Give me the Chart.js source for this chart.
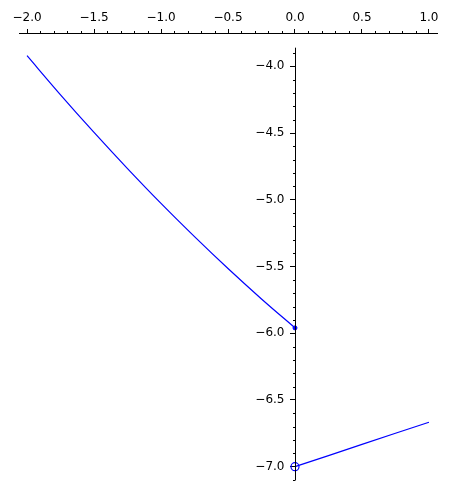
<!DOCTYPE html>
<html>
<head>
<meta charset="utf-8">
<script src="https://cdn.jsdelivr.net/npm/chart.js@4/dist/chart.umd.min.js"></script>
<style>
  html, body { margin: 0; padding: 0; background: #fff; }
  canvas { display: block; }
</style>
</head>
<body>
<canvas id="c" width="450" height="490"></canvas>
<script>
// ---- data ----
const leftX  = [-2.0, -1.75, -1.5, -1.25, -1.0, -0.75, -0.5, -0.25, 0.0];
const leftY  = [-3.92, -4.213, -4.495, -4.766, -5.027, -5.276, -5.515, -5.743, -5.96];
const rightX = [0.0, 0.25, 0.5, 0.75, 1.0];
const rightY = [-7.0, -6.917, -6.833, -6.75, -6.667];
const closedPointX = [0.0];
const closedPointY = [-5.96];
const openPointX = [0.0];
const openPointY = [-7.0];
const xTickValues = [-2.0, -1.5, -1.0, -0.5, 0.0, 0.5, 1.0];
const yTickValues = [-7.0, -6.5, -6.0, -5.5, -5.0, -4.5, -4.0];
const xMinorStep = 0.1;
const yMinorStep = 0.1;

const toPts = (xs, ys) => xs.map((x, i) => ({ x: x, y: ys[i] }));
const fmt = v => { const s = Number(v).toFixed(1); return s.replace('-', '\u2212'); };
const BLUE = '#0000ff';
const FONT = { family: 'DejaVu Sans', size: 12 };

const axisDecor = {
  id: 'axisDecor',
  afterDraw(chart) {
    const ctx = chart.ctx, xs = chart.scales.x, ys = chart.scales.y;
    const area = chart.chartArea;
    const x0 = Math.round(xs.getPixelForValue(0)) + 0.5;
    ctx.save();
    ctx.strokeStyle = '#000';
    ctx.lineWidth = 1;
    // y spine
    ctx.beginPath();
    ctx.moveTo(x0, ys.getPixelForValue(-3.86));
    ctx.lineTo(x0, area.bottom);
    ctx.stroke();
    // x minor ticks
    const xa = xTickValues[0], xb = xTickValues[xTickValues.length - 1];
    const nX = Math.round((xb - xa) / xMinorStep);
    ctx.beginPath();
    for (let i = 0; i <= nX; i++) {
      if (i % 5 === 0) continue;
      const px = Math.round(xs.getPixelForValue(xa + i * xMinorStep)) + 0.5;
      ctx.moveTo(px, area.top);
      ctx.lineTo(px, area.top - 2);
    }
    // y minor ticks
    const ya = yTickValues[0], yb = -3.9;
    const nY = Math.round((yb - ya) / yMinorStep);
    for (let i = -1; i <= nY; i++) {
      if (((i % 5) + 5) % 5 === 0) continue;
      const py = Math.round(ys.getPixelForValue(ya + i * yMinorStep)) + 0.5;
      ctx.moveTo(x0, py);
      ctx.lineTo(x0 - 2.5, py);
    }
    ctx.stroke();
    // y tick labels, placed through the y scale
    ctx.fillStyle = '#000';
    ctx.font = FONT.size + 'px "' + FONT.family + '"';
    ctx.textAlign = 'right';
    ctx.textBaseline = 'middle';
    yTickValues.forEach(v => {
      ctx.fillText(fmt(v), x0 - 11, ys.getPixelForValue(v));
    });
    ctx.restore();
  }
};

new Chart(document.getElementById('c'), {
  type: 'scatter',
  data: {
    datasets: [
      { data: toPts(leftX, leftY), showLine: true, borderColor: BLUE, borderWidth: 1.2,
        pointRadius: 0, cubicInterpolationMode: 'monotone', fill: false },
      { data: toPts(rightX, rightY), showLine: true, borderColor: BLUE, borderWidth: 1.2,
        pointRadius: 0, fill: false },
      { data: toPts(closedPointX, closedPointY), showLine: false, pointRadius: 2,
        pointBackgroundColor: BLUE, pointBorderColor: BLUE, pointBorderWidth: 1 },
      { data: toPts(openPointX, openPointY), showLine: false, pointRadius: 4,
        pointBackgroundColor: 'rgba(0,0,0,0)', pointBorderColor: BLUE, pointBorderWidth: 1.2 }
    ]
  },
  options: {
    responsive: false,
    devicePixelRatio: 1,
    animation: false,
    events: [],
    layout: { padding: { left: 19, right: 13, top: 0, bottom: 10 } },
    plugins: { legend: { display: false }, tooltip: { enabled: false } },
    scales: {
      x: {
        type: 'linear', position: 'top',
        min: -2.06, max: 1.06,
        afterBuildTicks: s => { s.ticks = xTickValues.map(v => ({ value: v })); },
        afterFit: s => { s.height = 33; },
        ticks: { callback: v => fmt(v), font: FONT, color: '#000', padding: 4, maxRotation: 0, autoSkip: false },
        grid: { display: true, drawOnChartArea: false, drawTicks: true, tickLength: 4, tickColor: '#000' },
        border: { display: true, color: '#000', width: 1 }
      },
      y: {
        type: 'linear', position: { x: 0 },
        min: -7.1, max: -3.75,
        afterBuildTicks: s => { s.ticks = yTickValues.map(v => ({ value: v })); },
        afterFit: s => { s.width = 0; },
        ticks: { display: false },
        grid: { display: true, drawOnChartArea: false, drawTicks: true, tickLength: 5, tickColor: '#000' },
        border: { display: false }
      }
    }
  },
  plugins: [axisDecor]
});
</script>
</body>
</html>
